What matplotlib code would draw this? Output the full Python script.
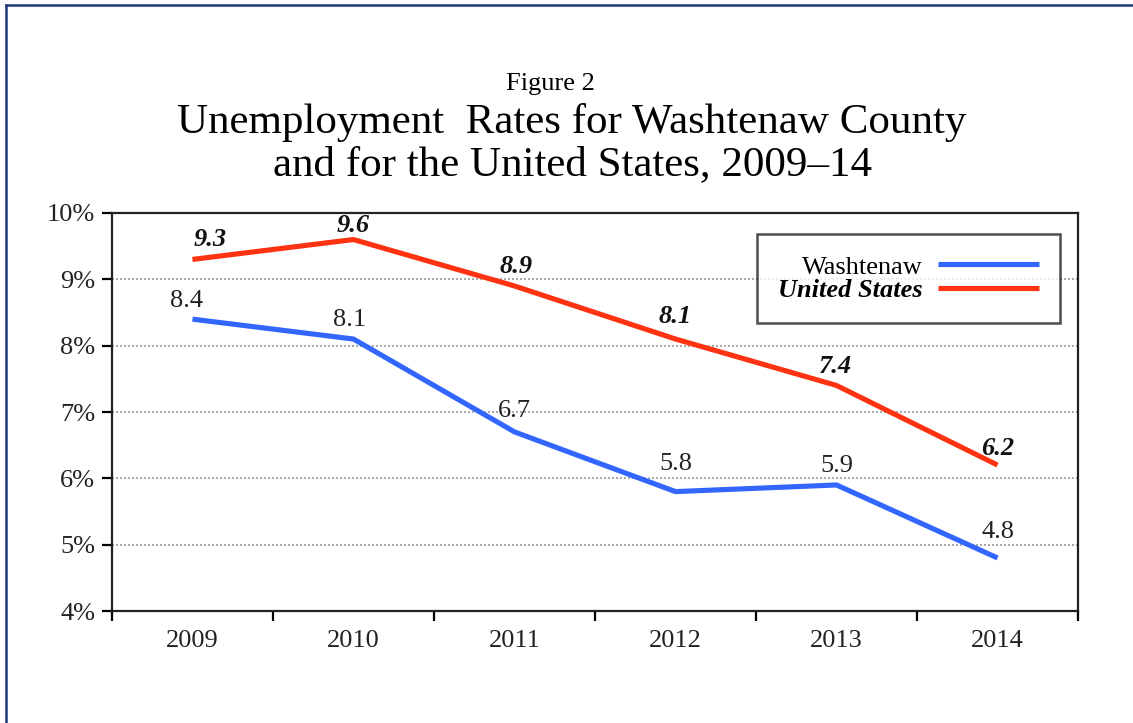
import matplotlib
matplotlib.use('Agg')
import matplotlib.pyplot as plt
from matplotlib.lines import Line2D
from matplotlib.ticker import FixedLocator, FuncFormatter

plt.rcParams['font.family'] = ['Liberation Serif', 'DejaVu Serif']

# unemployment rates, percent
years = ['2009', '2010', '2011', '2012', '2013', '2014']
washtenaw = [8.4, 8.1, 6.7, 5.8, 5.9, 4.8]
united_states = [9.3, 9.6, 8.9, 8.1, 7.4, 6.2]

BLUE = '#3366ff'
RED = '#ff3311'

fig = plt.figure(figsize=(11.33, 7.23), dpi=100)
ax = fig.add_axes([0.0988, 0.1549, 0.8527, 0.5505])

x = list(range(len(years)))
ax.plot(x, washtenaw, color=BLUE, lw=3.7, solid_capstyle='butt', label='Washtenaw', zorder=3)
ax.plot(x, united_states, color=RED, lw=3.7, solid_capstyle='butt', label='United States', zorder=3)

# value labels (offsets in points)
wa_off = [(-4, 13), (-3, 14), (0, 15), (0, 20), (0, 14), (0, 19)]
us_off = [(13, 14), (0, 10), (1, 14), (0, 16), (-1, 14), (0, 12)]
for i, v in enumerate(washtenaw):
    ax.annotate(f'{v:.1f}', (i, v), xytext=wa_off[i], textcoords='offset points',
                ha='center', va='center', fontsize=19, color='#222222', zorder=4)
for i, v in enumerate(united_states):
    ax.annotate(f'{v:.1f}', (i, v), xytext=us_off[i], textcoords='offset points',
                ha='center', va='center', fontsize=19, color='#111111',
                fontweight='bold', fontstyle='italic', zorder=4)

ax.set_xlim(-0.5, len(years) - 0.5)
ax.set_ylim(4, 10)

# x: labels at category centres, tick marks at the boundaries
ax.set_xticks(x)
ax.set_xticklabels(years, fontsize=19, color='#222222')
ax.xaxis.set_minor_locator(FixedLocator([i - 0.5 for i in range(len(years) + 1)]))
ax.tick_params(axis='x', which='major', length=0, pad=14)
ax.tick_params(axis='x', which='minor', length=7, width=1.6, direction='out')

ax.set_yticks(range(4, 11))
ax.yaxis.set_major_formatter(FuncFormatter(lambda v, p: f'{int(v)}%'))
ax.tick_params(axis='y', length=7, width=1.6, direction='out', labelsize=19, pad=5,
               labelcolor='#222222')

for y in range(5, 10):
    ax.axhline(y, color='#9a9a9a', lw=1.2, ls=(0, (1.2, 1.2)), zorder=1)

for s in ax.spines.values():
    s.set_linewidth(1.6)
    s.set_color('#222222')

leg = ax.legend(loc='upper right', bbox_to_anchor=(0.981, 0.947), markerfirst=False,
                fontsize=19, frameon=True, fancybox=False, handlelength=3.8,
                handletextpad=0.6, labelspacing=0.0, borderpad=0.8, borderaxespad=0)
leg.get_frame().set_edgecolor('#222222')
leg.get_frame().set_linewidth(1.8)
leg.get_texts()[1].set_fontweight('bold')
leg.get_texts()[1].set_fontstyle('italic')

fig.text(0.486, 0.884, 'Figure 2', ha='center', va='center', fontsize=19)
fig.text(0.505, 0.831, 'Unemployment  Rates for Washtenaw County', ha='center', va='center', fontsize=31)
fig.text(0.505, 0.772, 'and for the United States, 2009\u201314', ha='center', va='center', fontsize=31)

# page frame
fig.add_artist(Line2D([0.0053, 1.0], [0.9931, 0.9931], transform=fig.transFigure, color='#1f3a7a', lw=1.8))
fig.add_artist(Line2D([0.0053, 0.0053], [0.0, 0.9931], transform=fig.transFigure, color='#1f3a7a', lw=1.8))

fig.savefig('out.png', dpi=100, facecolor='white')
